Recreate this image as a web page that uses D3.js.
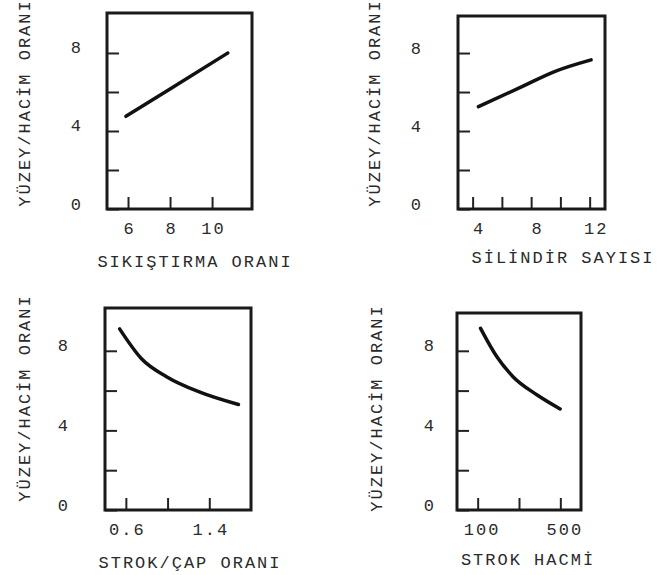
<!DOCTYPE html>
<html>
<head>
<meta charset="utf-8">
<script src="https://cdn.jsdelivr.net/npm/d3@7"></script>
<style>
  body { margin: 0; background: #fff; }
  text { font-family: "Liberation Mono", "DejaVu Sans Mono", monospace; fill: #2a2a2a; }
</style>
</head>
<body>
<svg id="chart" width="660" height="575"></svg>
<script>
// values
const yTicks = [0, 2, 4, 6, 8];
const yTickLabels = [0, 4, 8];
const yTitle = 'YÜZEY/HACİM ORANI';

const comprRatio = [5.9, 8.0, 10.75];
const svComprRatio = [4.75, 6.15, 8.0];
const comprTicks = [6, 8, 10];
const comprLabels = [6, 8, 10];

const cylinders = [4.4, 7.3, 9.6, 12.1];
const svCylinders = [5.25, 6.25, 7.05, 7.65];
const cylTicks = [4, 6, 8, 10, 12];
const cylLabels = [4, 8, 12];

const strokeBore = [0.54, 0.75, 0.99, 1.31, 1.68];
const svStrokeBore = [9.1, 7.6, 6.7, 5.92, 5.3];
const boreTicks = [0.6, 1.0, 1.4];
const boreLabels = [0.6, 1.4];

const strokeVol = [114, 193, 271, 388, 499];
const svStrokeVol = [9.13, 7.7, 6.7, 5.78, 5.08];
const volTicks = [100, 300, 500];
const volLabels = [100, 500];

const panels = [
  { frame: [107, 13, 252, 209], xDomain: [5, 11.9], yMax: 10.05, xs: comprRatio, ys: svComprRatio,
    ticks: comprTicks, labels: comprLabels, fmt: d3.format('d'), title: 'SIKIŞTIRMA ORANI',
    yPad: 26, yTitle: [25, 103], xTitle: [195, 262], xDx: 0 },
  { frame: [458, 16, 605, 209], xDomain: [3, 13.05], yMax: 9.9, xs: cylinders, ys: svCylinders,
    ticks: cylTicks, labels: cylLabels, fmt: d3.format('d'), title: 'SİLİNDİR SAYISI',
    yPad: 37, yTitle: [375, 103], xTitle: [563, 258], xDx: 5 },
  { frame: [105, 308, 251, 510], xDomain: [0.4, 1.8], yMax: 10.15, xs: strokeBore, ys: svStrokeBore,
    ticks: boreTicks, labels: boreLabels, fmt: d3.format('.1f'), title: 'STROK/ÇAP ORANI',
    yPad: 37, yTitle: [25, 398], xTitle: [190, 563], xDx: 0 },
  { frame: [457, 313, 581, 510], xDomain: [0, 600], yMax: 9.9, xs: strokeVol, ys: svStrokeVol,
    ticks: volTicks, labels: volLabels, fmt: d3.format('d'), title: 'STROK HACMİ',
    yPad: 23, yTitle: [377, 408], xTitle: [528, 560], xDx: 3 }
];

const svg = d3.select('#chart');

panels.forEach(p => {
  const [x0, y0, x1, y1] = p.frame;
  const x = d3.scaleLinear().domain(p.xDomain).range([x0, x1]);
  const y = d3.scaleLinear().domain([0, p.yMax]).range([y1, y0]);
  const g = svg.append('g');

  // y axis, ticks pointing into the box
  const ya = g.append('g')
    .attr('transform', `translate(${x0},0)`)
    .call(d3.axisLeft(y).tickValues(yTicks).tickSizeInner(-12).tickSizeOuter(0)
      .tickPadding(p.yPad)
      .tickFormat(d => yTickLabels.includes(d) ? d : ''));
  ya.select('.domain').remove();
  ya.selectAll('.tick line').attr('stroke', '#222').attr('stroke-width', 2);
  ya.selectAll('.tick text').attr('font-size', 17).attr('dy', '0.0em').attr('fill', '#2a2a2a');

  // x axis, ticks pointing up
  const xa = g.append('g')
    .attr('transform', `translate(0,${y1})`)
    .call(d3.axisBottom(x).tickValues(p.ticks).tickSizeInner(-12).tickSizeOuter(0)
      .tickPadding(13)
      .tickFormat(d => p.labels.includes(d) ? p.fmt(d) : ''));
  xa.select('.domain').remove();
  xa.selectAll('.tick line').attr('stroke', '#222').attr('stroke-width', 2);
  xa.selectAll('.tick text').attr('font-size', 17).attr('letter-spacing', 2)
    .attr('dx', p.xDx + 1).attr('fill', '#2a2a2a');

  // frame
  g.append('rect')
    .attr('x', x0).attr('y', y0)
    .attr('width', x1 - x0).attr('height', y1 - y0)
    .attr('fill', 'none').attr('stroke', '#1a1a1a').attr('stroke-width', 3);

  // curve
  const line = d3.line()
    .x(d => x(d[0])).y(d => y(d[1]))
    .curve(d3.curveMonotoneX);
  g.append('path')
    .datum(p.xs.map((v, i) => [v, p.ys[i]]))
    .attr('d', line)
    .attr('fill', 'none').attr('stroke', '#111')
    .attr('stroke-width', 3.5).attr('stroke-linecap', 'round');

  // titles
  g.append('text')
    .attr('x', p.xTitle[0]).attr('y', p.xTitle[1])
    .attr('text-anchor', 'middle').attr('dominant-baseline', 'central')
    .attr('font-size', 17).attr('letter-spacing', 2)
    .text(p.title);
  g.append('text')
    .attr('transform', `translate(${p.yTitle[0]},${p.yTitle[1]}) rotate(-90)`)
    .attr('text-anchor', 'middle').attr('dominant-baseline', 'central')
    .attr('font-size', 17).attr('letter-spacing', 2)
    .text(yTitle);
});
</script>
</body>
</html>
